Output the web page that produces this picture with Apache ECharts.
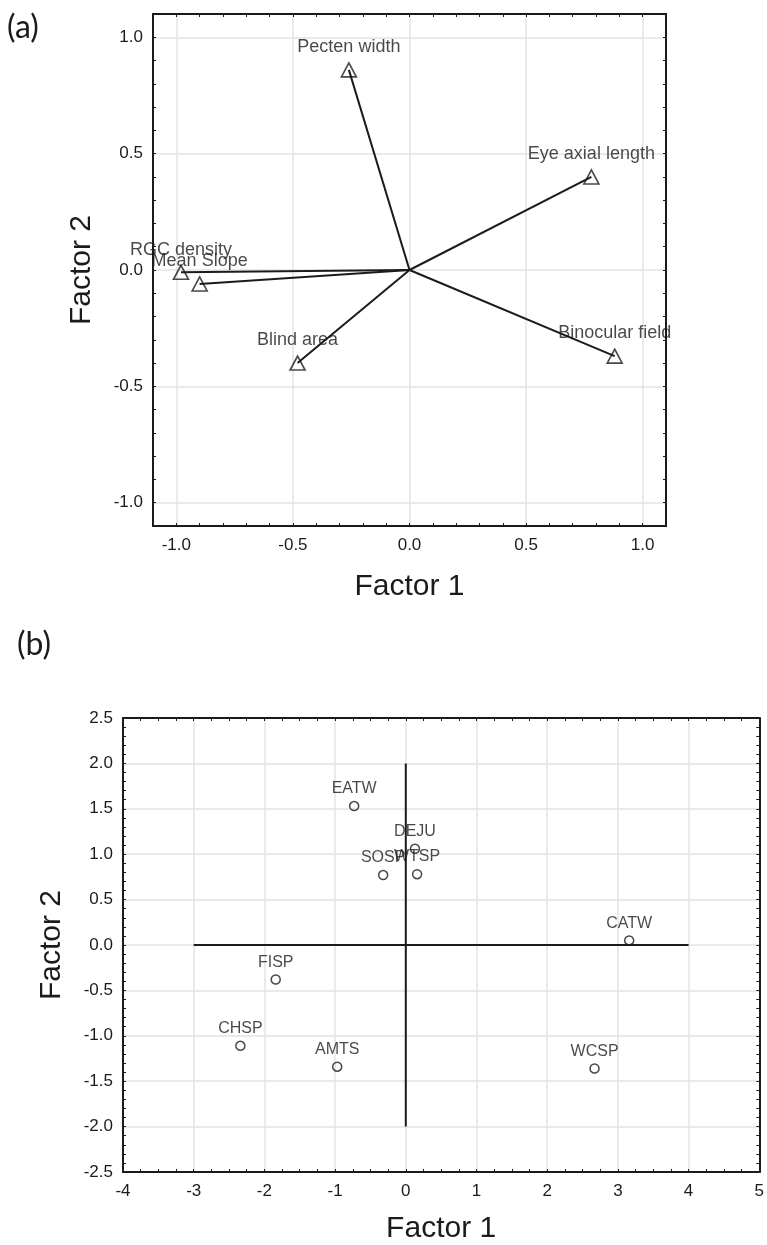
<!DOCTYPE html>
<html>
<head>
<meta charset="utf-8">
<script src="https://cdn.jsdelivr.net/npm/echarts@6/dist/echarts.min.js"></script>
<style>
  html, body { margin: 0; padding: 0; background: #fff; }
  #chart { width: 767px; height: 1245px; }
</style>
</head>
<body>
<div id="chart"></div>
<script>
// (a) factor loadings of the eye variables
const loadingNames = ['Pecten width', 'Eye axial length', 'RGC density', 'Mean Slope', 'Blind area', 'Binocular field'];
const loadingF1 = [-0.26, 0.78, -0.98, -0.90, -0.48, 0.88];
const loadingF2 = [0.86, 0.40, -0.01, -0.06, -0.40, -0.37];
const ticksA = [-1.0, -0.5, 0.0, 0.5, 1.0];

// (b) species scores
const speciesNames = ['EATW', 'DEJU', 'SOSP', 'WTSP', 'CATW', 'FISP', 'CHSP', 'AMTS', 'WCSP'];
const scoreF1 = [-0.73, 0.13, -0.32, 0.16, 3.16, -1.84, -2.34, -0.97, 2.67];
const scoreF2 = [1.53, 1.06, 0.77, 0.78, 0.05, -0.38, -1.11, -1.34, -1.36];
// reference cross drawn through the origin in (b)
const crossF1 = [-3, 4];
const crossF2 = [-2, 2];

const FONT = '"Liberation Sans", Arial, sans-serif';
const INK = '#1c1a1b';
const GRID_LINE = '#e3e3e3';

const chartInstance = echarts.init(document.getElementById('chart'), null, { renderer: 'canvas' });

// shared look of every frame axis (ticks point inward, line sits on the box edge)
function frameAxis(extra) {
  return Object.assign({
    type: 'value',
    axisLine: { show: true, onZero: false, lineStyle: { color: INK, width: 2 } },
    axisTick: { show: true, inside: true, length: 3, lineStyle: { color: INK, width: 1 } },
    axisLabel: { show: false },
    splitLine: { show: false },
    nameTextStyle: { fontFamily: FONT, fontSize: 30, color: INK },
  }, extra);
}

const labelA = {
  show: true, fontFamily: FONT, fontSize: 17, color: INK,
  formatter: (v) => {
    const r = Math.round(v * 10) / 10;
    return ticksA.some((t) => Math.abs(t - r) < 1e-9) ? r.toFixed(1) : '';
  },
};
// ticks run every 0.1 from -1.1, so only every 5th line (the 0.5 steps) gets a colour
const gridCycle = ['rgba(0,0,0,0)', GRID_LINE, 'rgba(0,0,0,0)', 'rgba(0,0,0,0)', 'rgba(0,0,0,0)'];

const option = {
  animation: false,
  backgroundColor: '#fff',
  textStyle: { fontFamily: FONT },
  grid: [
    { left: 153, top: 14, width: 513, height: 512 },
    { left: 123, top: 718, width: 638, height: 456 },
  ],
  xAxis: [
    frameAxis({
      gridIndex: 0, position: 'bottom', min: -1.1, max: 1.1, interval: 0.1,
      axisLabel: Object.assign({ margin: 11 }, labelA),
      splitLine: { show: true, lineStyle: { color: gridCycle, width: 1.5 } },
      name: 'Factor 1', nameLocation: 'middle', nameGap: 46,
    }),
    frameAxis({ gridIndex: 0, position: 'top', min: -1.1, max: 1.1, interval: 0.1 }),
    frameAxis({
      gridIndex: 1, position: 'bottom', min: -4, max: 5, interval: 1,
      minorTick: { show: true, splitNumber: 4, length: 3, lineStyle: { color: INK } },
      axisLabel: { show: true, margin: 11, fontFamily: FONT, fontSize: 17, color: INK },
      splitLine: { show: true, lineStyle: { color: GRID_LINE, width: 1.5 } },
      name: 'Factor 1', nameLocation: 'middle', nameGap: 42,
    }),
    frameAxis({
      gridIndex: 1, position: 'top', min: -4, max: 5, interval: 1,
      minorTick: { show: true, splitNumber: 4, length: 3, lineStyle: { color: INK } },
    }),
  ],
  yAxis: [
    frameAxis({
      gridIndex: 0, position: 'left', min: -1.1, max: 1.1, interval: 0.1,
      axisLabel: Object.assign({ margin: 10 }, labelA),
      splitLine: { show: true, lineStyle: { color: gridCycle, width: 1.5 } },
      name: 'Factor 2', nameLocation: 'middle', nameGap: 56,
    }),
    frameAxis({ gridIndex: 0, position: 'right', min: -1.1, max: 1.1, interval: 0.1 }),
    frameAxis({
      gridIndex: 1, position: 'left', min: -2.5, max: 2.5, interval: 0.5,
      minorTick: { show: true, splitNumber: 5, length: 3, lineStyle: { color: INK } },
      axisLabel: { show: true, margin: 10, fontFamily: FONT, fontSize: 17, color: INK, formatter: (v) => v.toFixed(1) },
      splitLine: { show: true, lineStyle: { color: GRID_LINE, width: 1.5 } },
      name: 'Factor 2', nameLocation: 'middle', nameGap: 56,
    }),
    frameAxis({
      gridIndex: 1, position: 'right', min: -2.5, max: 2.5, interval: 0.5,
      minorTick: { show: true, splitNumber: 5, length: 3, lineStyle: { color: INK } },
    }),
  ],
  graphic: [
    { type: 'text', left: 7, top: 12, style: { text: '(a)', font: '32px Lato, "Open Sans", sans-serif', fill: INK } },
    { type: 'text', left: 17, top: 629, style: { text: '(b)', font: '32px Lato, "Open Sans", sans-serif', fill: INK } },
  ],
  series: [],
};

// (a) a vector from the origin to every loading
loadingNames.forEach((name, i) => {
  option.series.push({
    type: 'line', xAxisIndex: 0, yAxisIndex: 0, silent: true, z: 2,
    symbol: 'none',
    lineStyle: { color: INK, width: 2 },
    data: [[0, 0], [loadingF1[i], loadingF2[i]]],
  });
});
option.series.push({
  type: 'scatter', xAxisIndex: 0, yAxisIndex: 0, z: 3,
  symbol: 'triangle', symbolSize: [15, 14],
  itemStyle: { color: 'rgba(255,255,255,0)', borderColor: INK, borderWidth: 1.6 },
  label: { show: true, position: 'top', distance: 6, fontFamily: FONT, fontSize: 18, color: INK, formatter: (p) => p.name },
  data: loadingNames.map((name, i) => ({ name: name, value: [loadingF1[i], loadingF2[i]] })),
});

// (b) cross through the origin
option.series.push({
  type: 'line', xAxisIndex: 2, yAxisIndex: 2, silent: true, z: 2, symbol: 'none',
  lineStyle: { color: INK, width: 2 },
  data: crossF1.map((x) => [x, 0]),
});
option.series.push({
  type: 'line', xAxisIndex: 2, yAxisIndex: 2, silent: true, z: 2, symbol: 'none',
  lineStyle: { color: INK, width: 2 },
  data: crossF2.map((y) => [0, y]),
});
option.series.push({
  type: 'scatter', xAxisIndex: 2, yAxisIndex: 2, z: 3,
  symbol: 'circle', symbolSize: 9,
  itemStyle: { color: 'rgba(255,255,255,0)', borderColor: INK, borderWidth: 1.5 },
  label: { show: true, position: 'top', distance: 4, fontFamily: FONT, fontSize: 16, color: INK, formatter: (p) => p.name },
  data: speciesNames.map((name, i) => ({ name: name, value: [scoreF1[i], scoreF2[i]] })),
});

chartInstance.setOption(option);
</script>
</body>
</html>
